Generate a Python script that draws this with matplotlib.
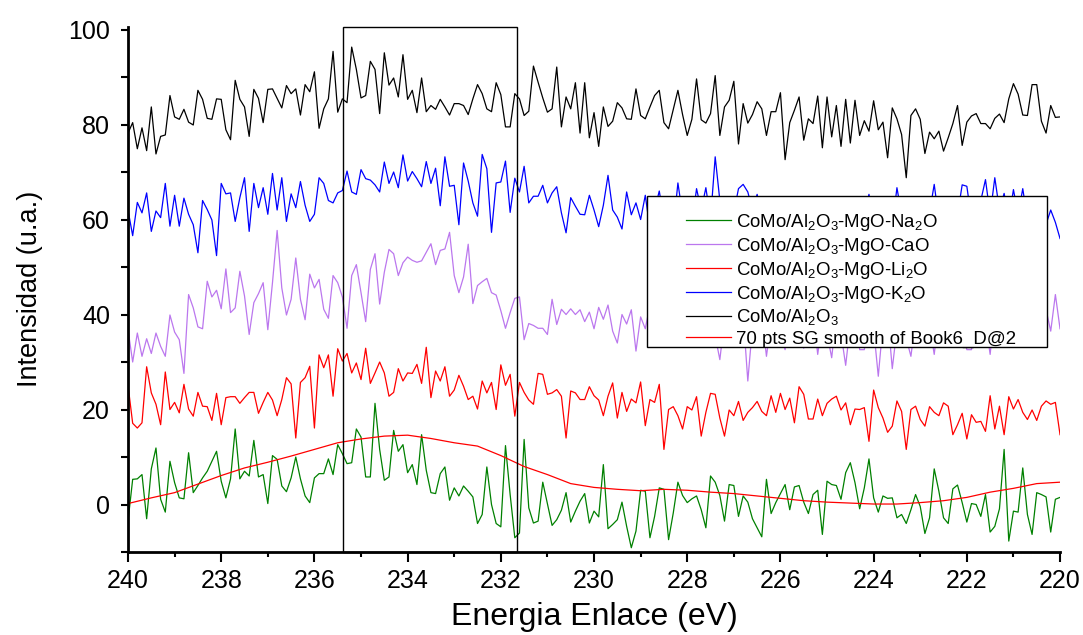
import matplotlib
matplotlib.use("Agg")
import matplotlib.pyplot as plt
from matplotlib.patches import Rectangle
from matplotlib.ticker import MultipleLocator
import numpy as np

plt.rcParams['font.family'] = ['Liberation Sans', 'DejaVu Sans']
plt.rcParams['mathtext.default'] = 'regular'

# binding energy grid runs 240 -> 220 eV
e_start, e_end = 240, 220

na2o = [-3.5, 5.3, 5.4, 6.3, -3.0, 7.5, 11.9, 1.1, -1.6, 9.1, 4.6, 1.4, 1.2, 10.9, 2.5, 4.0, 5.6, 7.0, 9.1, 11.2,
        4.9, 1.4, 5.4, 15.9, 5.4, 7.0, 6.0, 13.5, 5.8, 6.3, 0.2, 10.3, 9.5, 3.9, 2.7, 5.6, 10.0, 5.4, 1.8, 0.4,
        5.6, 6.5, 6.5, 9.6, 6.3, 12.6, 10.7, 8.6, 8.8, 15.9, 14.2,
        5.8, 5.8, 21.3, 11.6, 5.1, 5.8, 15.6, 11.2, 12.6, 6.7, 8.4, 4.2, 14.7, 7.2, 2.5, 2.3, 6.5, 7.9, 0.9, 3.5,
        1.8, 3.9, 2.8, 1.6, -4.0, -2.1, 7.9, 0.0, -4.0, -4.7, 12.4, 2.1, -7.0, -6.0, 13.7, -0.7, -3.9, -3.5, 4.7,
        0.2, -4.4, -3.2, -1.2, 2.5, -3.7, -1.4, 0.7,
        2.3, -3.9, -1.4, -2.6, 8.4, -5.1, -4.2, -3.2, 0.5, -4.6, -9.1, -5.6, 3.0, 2.8, -7.0, -2.5, 3.5, 3.2, -7.4,
        -1.8, 4.7, 1.9, 0.4, 1.2, 1.8, -1.1, -4.9, 6.0, 4.7, 1.9, -3.5, 4.2, 4.0, -2.5, 1.8, 0.5, -3.0, -4.9, -6.8,
        5.3, -1.9, 0.4, 2.3, 4.2, -1.1, 3.7, 4.0, 0.5, -1.9, 2.1, 3.0,
        -6.3, 4.9, 4.2, 4.0, 1.1, 6.7, 8.8, 4.6, -0.9, 3.5, 9.6, 1.4, -1.6, 1.8, 1.3, 1.4, -2.8, -2.1, -4.0, -1.1,
        2.1, -0.4, -6.1, -2.8, 7.5, 2.8, -2.8, -4.0, 3.3, 4.1, 0.4, -3.7, 0.2, 0.0, -2.5, 2.1, -5.8, -4.6, -0.9,
        11.6, -7.7, -1.4, -1.6, 7.7, -2.1, -6.3, 2.5, 2.1, 1.6, -5.8, 1.1, 1.5]

cao = [36.8, 30.0, 36.1, 31.2, 34.9, 31.8, 36.1, 33.3, 31.2, 39.9, 36.3, 34.7, 27.6, 44.2, 41.4, 37.4, 37.0, 47.0,
       43.7, 45.1, 41.2, 49.6, 40.4, 41.4, 49.1, 43.9, 35.8, 42.5, 44.4, 46.7, 36.8, 46.7, 57.7, 45.6, 39.9, 43.2,
       51.9, 43.2, 38.9, 48.5, 45.6, 47.4, 41.1, 39.2, 48.2, 46.7, 43.7, 37.1, 48.2, 50.5,
       44.6, 38.5, 49.5, 52.8, 42.2, 48.9, 53.7, 52.8, 48.2, 50.9, 52.1, 51.4, 51.0, 51.3, 53.1, 54.9, 50.5, 53.5,
       53.8, 57.3, 48.2, 44.6, 47.9, 54.8, 42.3, 46.1, 46.9, 47.6, 44.6, 44.1, 40.8, 37.1, 40.4, 43.4, 43.7, 34.7,
       38.1, 37.7, 37.1, 37.1, 35.8, 43.2, 37.9, 41.1, 40.0, 41.2, 40.0,
       41.0, 38.5, 40.5, 37.0, 41.5, 39.0, 42.0, 36.5, 34.0, 40.0, 38.0, 41.0, 32.3, 39.5, 37.0, 42.0, 35.0, 40.0,
       37.5, 43.0, 36.0, 39.0, 34.5, 41.0, 37.5, 40.5, 36.0, 38.5, 42.0, 35.5, 30.5, 39.0, 41.5, 36.0, 38.0, 40.0,
       26.0, 37.5, 37.0, 40.0, 31.2, 38.5, 41.0, 35.5, 32.6, 39.0, 40.0, 36.5, 32.9, 38.0, 40.5, 31.6, 39.0, 36.0,
       30.9, 40.0, 36.0, 29.3, 38.0, 41.0, 32.6, 32.6, 39.5, 37.0, 27.0, 38.0, 40.0, 28.6, 37.0, 41.5, 35.0, 31.2,
       39.0, 42.0, 36.5, 38.0, 31.6, 40.0, 37.0, 41.0, 35.5, 39.0, 37.5, 32.6, 32.6, 40.0, 36.0, 38.5, 31.6, 41.0,
       37.0, 39.5, 35.0, 42.0, 36.0, 39.0, 37.5, 40.5, 35.0, 38.0, 41.0, 36.5, 44.2, 37.0]

li2o = [25.1, 17.1, 16.1, 17.2, 29.0, 23.5, 21.1, 16.8, 27.9, 20.0, 21.5, 19.3, 25.3, 20.1, 18.6, 23.6, 20.7, 20.6,
        17.7, 23.4, 16.8, 22.5, 22.7, 22.7, 21.3, 22.5, 23.6, 23.6, 19.2, 21.5, 23.6, 22.0, 18.7, 22.1, 26.7, 25.4,
        14.0, 25.7, 26.7, 29.1, 16.1, 31.5, 28.8, 31.5, 22.8, 32.8, 30.2, 31.8, 27.7, 29.8,
        26.3, 32.9, 25.5, 27.7, 30.0, 27.7, 22.8, 23.6, 28.6, 26.0, 27.7, 27.6, 29.5, 25.5, 33.1, 22.5, 28.1, 26.0,
        29.0, 22.8, 24.1, 27.2, 24.9, 22.1, 22.8, 20.1, 26.0, 23.5, 25.7, 20.0, 29.4, 25.1, 27.4, 18.6, 25.7, 23.6,
        22.0, 21.1, 27.6, 27.4, 23.2, 23.5, 24.2, 22.8, 14.0, 23.9, 23.5,
        22.1, 22.1, 24.8, 22.9, 22.0, 18.7, 22.8, 25.6, 18.2, 23.6, 19.6, 22.2, 21.4, 25.8, 16.6, 22.1, 21.5, 25.3,
        11.6, 20.0, 20.6, 18.7, 15.9, 20.6, 19.9, 22.7, 14.4, 19.4, 23.4, 23.2, 18.2, 14.4, 19.9, 18.7, 21.7, 17.7,
        19.4, 20.4, 21.7, 19.6, 18.7, 22.9, 19.4, 23.4, 20.0, 22.4, 17.2, 24.8, 23.2, 18.0, 18.0, 22.2,
        18.7, 21.3, 22.2, 22.8, 19.9, 21.4, 16.8, 20.1, 20.0, 20.4, 13.3, 24.1, 20.4, 18.2, 15.2, 16.5, 21.8, 19.6,
        11.6, 20.0, 20.7, 17.9, 16.5, 20.6, 19.4, 18.7, 21.4, 20.7, 14.7, 16.8, 19.2, 13.8, 18.9, 17.3, 17.5, 15.4,
        22.9, 15.9, 20.7, 14.7, 22.7, 20.1, 22.1, 19.4, 17.9, 19.9, 17.7, 20.7, 21.8, 21.1, 21.5, 14.7]

k2o = [62.0, 56.6, 63.6, 61.4, 65.6, 57.5, 61.8, 60.4, 67.6, 58.6, 65.1, 58.6, 64.5, 61.1, 58.9, 53.0, 64.0, 62.1,
       59.9, 52.4, 67.6, 65.4, 65.6, 59.6, 64.6, 68.8, 57.5, 67.6, 62.5, 66.7, 61.1, 69.7, 62.0, 68.8, 59.6, 65.4,
       62.5, 68.0, 63.0, 59.6, 61.1, 68.8, 67.6, 64.0, 63.5, 65.6, 66.1,
       70.2, 65.8, 65.3, 70.5, 68.6, 68.3, 67.3, 65.8, 72.1, 67.6, 70.0, 66.7, 73.6, 68.1, 70.1, 68.6, 66.9, 72.2,
       67.6, 70.8, 62.9, 73.2, 67.0, 67.2, 58.9, 71.9, 68.1, 63.5, 60.7, 73.7, 70.7, 57.3, 67.7, 67.9, 72.3, 61.5,
       68.7, 65.8, 71.2, 63.5, 64.9, 64.9, 67.2, 63.5, 65.6, 66.9, 61.4, 57.2, 64.6, 62.8, 61.1,
       61.0, 65.1, 62.0, 58.5, 63.0, 69.3, 62.0, 60.5, 58.0, 65.8, 61.0, 63.5, 60.0, 65.1, 58.0, 62.0, 66.0, 60.0,
       62.5, 58.0, 67.7, 61.0, 63.0, 59.0, 66.5, 62.0, 66.7, 60.0, 73.2, 64.0, 60.0, 62.0, 61.5, 66.5, 67.4, 65.8,
       62.0, 65.3, 60.0, 63.0, 58.0, 61.5, 64.0, 59.0, 62.0, 60.5, 63.5, 58.5, 61.0, 64.0, 60.0, 62.0, 59.0, 63.5,
       60.0, 61.0, 57.5, 62.5, 60.0, 63.0, 61.0, 65.3, 59.0, 62.0, 60.5, 63.0, 58.5, 66.7, 61.0, 59.0, 63.0, 60.0,
       62.0, 58.0, 61.5, 67.4, 60.0, 62.5, 59.0, 63.5, 61.0, 67.3, 67.0, 60.0, 62.0, 64.0, 68.4, 61.0, 68.8, 62.0,
       65.5, 60.0, 66.3, 61.0, 66.5, 60.0, 63.0, 61.0, 64.0, 59.0, 62.0, 59.4, 56.0]

al2o3 = [78.2, 80.4, 74.9, 79.3, 74.5, 83.7, 73.8, 77.5, 77.8, 86.1, 81.6, 81.1, 83.2, 80.5, 79.9, 87.2, 85.3, 81.3,
         81.1, 85.4, 85.3, 78.9, 76.8, 89.3, 85.3, 83.7, 77.5, 87.4, 85.5, 80.4, 87.4, 87.5, 85.5, 83.5, 88.2, 86.5,
         87.5, 82.0, 88.4, 86.9, 91.1, 79.2, 83.3, 85.4, 95.4, 82.6, 85.4, 84.6, 96.3, 91.6,
         85.6, 86.1, 93.3, 91.6, 82.3, 95.1, 88.3, 89.8, 85.8, 94.7, 85.3, 87.2, 82.5, 89.8, 82.7, 84.0, 83.2, 85.3,
         83.7, 82.0, 84.4, 84.4, 84.0, 82.1, 85.4, 88.4, 86.5, 83.3, 82.7, 88.8, 86.3, 79.5, 79.5, 86.5, 85.4, 81.9,
         82.8, 92.3, 88.9, 85.6, 82.6, 83.3, 92.1, 79.5, 85.8, 83.3, 88.8, 78.2,
         88.8, 77.2, 82.5, 75.4, 83.7, 79.6, 80.7, 84.6, 83.5, 81.2, 81.1, 87.5, 81.9, 81.2, 83.7, 86.1, 87.2, 80.4,
         79.1, 83.2, 87.2, 82.1, 77.7, 81.1, 89.6, 81.0, 80.3, 82.3, 90.3, 77.7, 83.7, 85.1, 89.1, 75.9, 84.4, 80.3,
         82.1, 84.8, 83.3, 77.7, 82.7, 82.7, 86.7, 72.6, 80.4, 83.0, 85.8, 76.7, 81.2, 80.2, 86.0,
         75.1, 85.8, 77.4, 84.0, 75.4, 85.3, 76.1, 85.1, 77.7, 80.8, 78.6, 85.0, 78.9, 80.5, 73.0, 83.5, 81.2, 77.9,
         68.8, 81.9, 83.3, 81.1, 73.9, 78.4, 77.0, 78.6, 74.4, 77.2, 80.2, 84.0, 75.6, 80.5, 81.8, 82.3, 80.2, 80.2,
         79.1, 81.3, 82.2, 80.4, 85.4, 88.6, 86.4, 82.0, 81.9, 88.4, 88.4, 80.7, 78.2, 84.0, 81.5, 81.6]

# Savitzky-Golay smoothed curve, read every 0.5 eV
sg_smooth = [0.2, 1.4, 2.5, 4.3, 6.1, 7.7, 8.9, 10.2, 11.6, 13.0, 13.8, 14.4, 14.6, 13.9, 13.0, 12.3, 10.3, 8.0,
             6.3, 4.4, 3.6, 3.2, 2.9, 3.2, 3.0, 2.6, 2.3, 1.8, 1.3, 0.8, 0.5, 0.3, 0.1, 0.1, 0.4, 0.8, 1.5, 2.6,
             3.4, 4.4, 4.7]

series = [
    (na2o, '#008000', r'CoMo/Al$_2$O$_3$-MgO-Na$_2$O'),
    (cao, '#bb77ee', r'CoMo/Al$_2$O$_3$-MgO-CaO'),
    (li2o, '#ff0000', r'CoMo/Al$_2$O$_3$-MgO-Li$_2$O'),
    (k2o, '#0000ff', r'CoMo/Al$_2$O$_3$-MgO-K$_2$O'),
    (al2o3, '#000000', r'CoMo/Al$_2$O$_3$'),
    (sg_smooth, '#ff0000', '70 pts SG smooth of Book6_D@2'),
]

# highlighted window
win_lo, win_hi = 231.65, 235.38

fig = plt.figure(figsize=(10.83, 6.35), dpi=100)
ax = fig.add_axes([0.1182, 0.1307, 0.8606, 0.8273])

for vals, color, label in series:
    x = np.linspace(e_start, e_end, len(vals))
    ax.plot(x, vals, color=color, lw=0.9, label=label)

ax.set_xlim(e_start, e_end)
ax.set_ylim(-10, 100.6)

ax.add_patch(Rectangle((win_lo, -10), win_hi - win_lo, 110.6, fill=False,
                       edgecolor='black', lw=1.0, zorder=3, clip_on=False))

ax.spines['top'].set_visible(False)
ax.spines['right'].set_visible(False)
for s in ('left', 'bottom'):
    ax.spines[s].set_linewidth(2)

ax.xaxis.set_major_locator(MultipleLocator(2))
ax.xaxis.set_minor_locator(MultipleLocator(1))
ax.yaxis.set_minor_locator(MultipleLocator(10))
ax.set_yticks([0, 20, 40, 60, 80, 100])
ax.tick_params(axis='x', which='major', direction='out', length=7, width=1.5, labelsize=18, pad=5)
ax.tick_params(axis='x', which='minor', direction='out', length=3.5, width=1.5)
ax.tick_params(axis='y', which='both', direction='out', length=5, width=1.5, labelsize=18, pad=8)

ax.set_xlabel('Energia Enlace (eV)', fontsize=23, labelpad=7)
ax.set_ylabel('Intensidad (u.a.)', fontsize=19.5, labelpad=18)

# legend frame drawn as a box, entries placed inside it
ax.add_patch(Rectangle((0.5566, 0.3908), 0.4294, 0.2869, transform=ax.transAxes,
                       facecolor='white', edgecolor='black', lw=1.0, zorder=4))
leg = ax.legend(loc='upper left', bbox_to_anchor=(0.5987, 0.648), frameon=False,
                fontsize=13.4, handlelength=2.4, handletextpad=0.3, labelspacing=0.16,
                borderpad=0, borderaxespad=0)
leg.set_zorder(5)

fig.savefig('out.png', dpi=100)
